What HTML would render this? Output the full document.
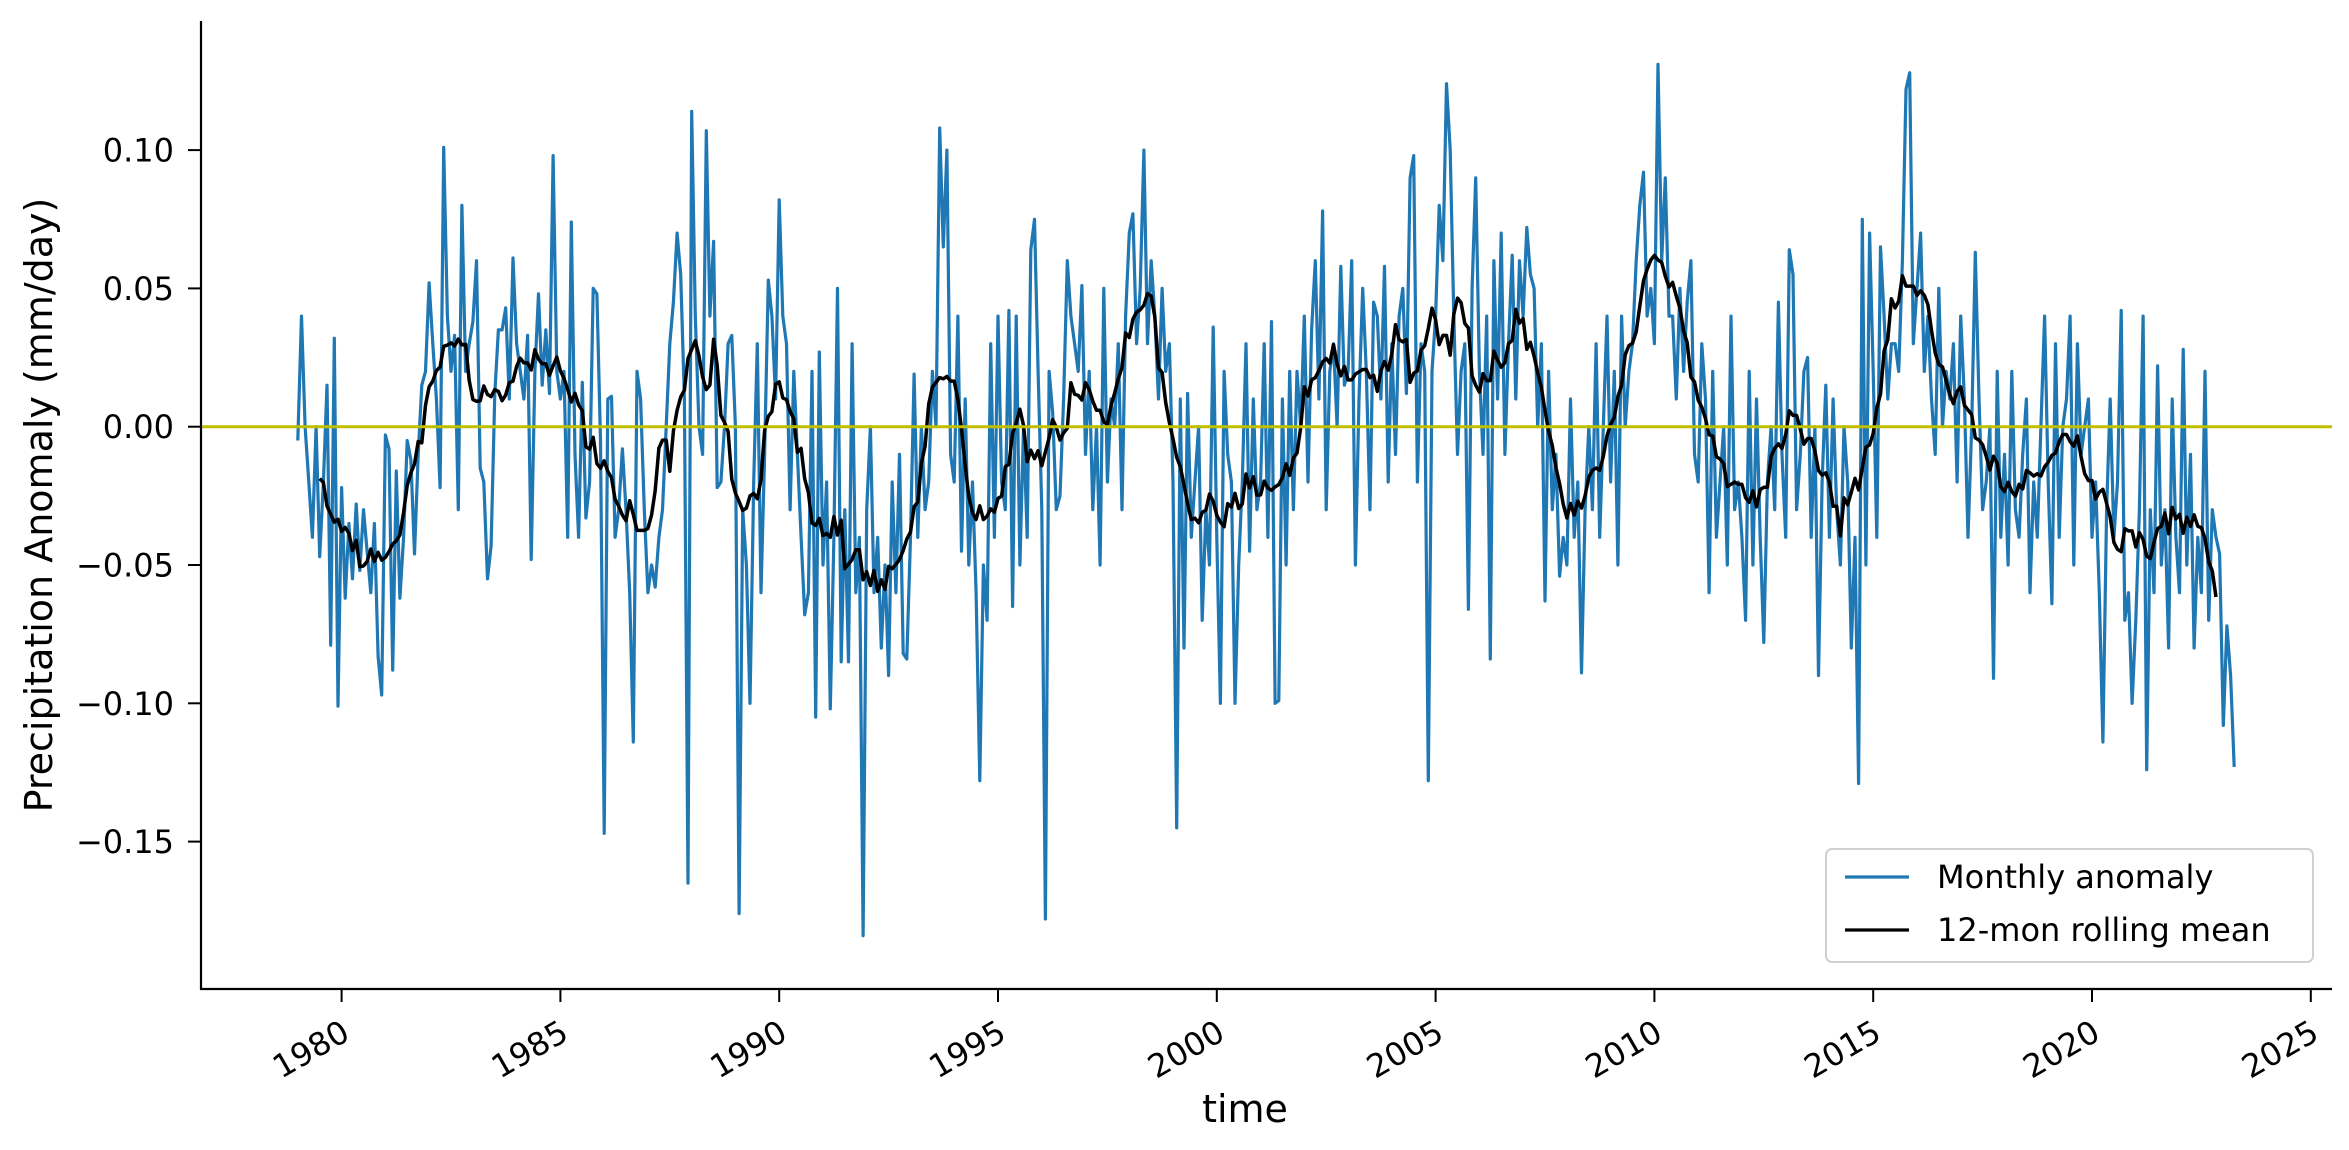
<!DOCTYPE html>
<html><head><meta charset="utf-8"><style>
body{margin:0;background:#fff;}
svg{display:block;font-family:"DejaVu Sans","Liberation Sans",sans-serif;}
</style></head><body>
<svg id="chart" width="2349" height="1150" viewBox="0 0 2349 1150" xmlns="http://www.w3.org/2000/svg">
<g id="plot"></g>
</svg>
<script>
const startYear = 1979;
const monthly = [
-0.005,0.040,0.000,-0.020,-0.040,0.000,-0.047,-0.020,0.015,-0.079,0.032,-0.101,
-0.022,-0.062,-0.035,-0.055,-0.028,-0.052,-0.030,-0.045,-0.060,-0.035,-0.083,-0.097,
-0.003,-0.008,-0.088,-0.016,-0.062,-0.040,-0.005,-0.012,-0.046,-0.010,0.015,0.020,
0.052,0.030,0.010,-0.022,0.101,0.040,0.020,0.033,-0.030,0.080,0.020,0.030,
0.038,0.060,-0.015,-0.020,-0.055,-0.043,0.012,0.035,0.035,0.043,0.010,0.061,
0.030,0.020,0.010,0.033,-0.048,0.020,0.048,0.015,0.035,0.012,0.098,0.020,
0.010,0.020,-0.040,0.074,-0.010,-0.040,0.016,-0.033,-0.020,0.050,0.048,-0.005,
-0.147,0.010,0.011,-0.040,-0.030,-0.008,-0.030,-0.060,-0.114,0.020,0.010,-0.030,
-0.060,-0.050,-0.058,-0.040,-0.030,0.000,0.030,0.045,0.070,0.055,0.010,-0.165,
0.114,0.040,0.000,-0.010,0.107,0.040,0.067,-0.022,-0.020,0.000,0.030,0.033,
0.000,-0.176,-0.030,-0.050,-0.100,-0.020,0.030,-0.060,-0.010,0.053,0.040,0.010,
0.082,0.040,0.030,-0.030,0.020,-0.010,-0.040,-0.068,-0.060,0.020,-0.105,0.027,
-0.050,-0.020,-0.102,-0.040,0.050,-0.085,-0.030,-0.085,0.030,-0.060,-0.040,-0.184,
-0.030,0.000,-0.060,-0.040,-0.080,-0.050,-0.090,-0.020,-0.060,-0.010,-0.082,-0.084,
-0.040,0.019,-0.040,0.000,-0.030,-0.020,0.020,0.000,0.108,0.065,0.100,-0.010,
-0.020,0.040,-0.045,0.010,-0.050,-0.020,-0.060,-0.128,-0.050,-0.070,0.030,-0.040,
0.040,-0.020,-0.030,0.042,-0.065,0.040,-0.050,0.000,-0.040,0.064,0.075,0.020,
-0.030,-0.178,0.020,0.005,-0.030,-0.025,0.010,0.060,0.040,0.030,0.020,0.051,
-0.010,0.020,-0.030,0.000,-0.050,0.050,-0.020,0.010,0.000,0.030,-0.030,0.040,
0.070,0.077,0.030,0.050,0.100,0.030,0.060,0.040,0.010,0.050,0.020,0.030,
-0.020,-0.145,0.010,-0.080,0.012,-0.040,-0.020,0.000,-0.070,-0.030,-0.050,0.036,
-0.040,-0.100,0.020,-0.010,-0.020,-0.100,-0.050,-0.020,0.030,-0.045,0.010,-0.030,
-0.020,0.030,-0.040,0.038,-0.100,-0.099,0.010,-0.050,0.020,-0.030,0.020,0.000,
0.040,-0.020,0.035,0.060,0.010,0.078,-0.030,0.020,0.030,0.000,0.058,0.015,
0.020,0.060,-0.050,0.010,0.050,0.020,-0.030,0.045,0.040,0.010,0.058,-0.020,
0.030,-0.010,0.040,0.050,0.012,0.090,0.098,-0.020,0.030,0.020,-0.128,0.020,
0.040,0.080,0.060,0.124,0.100,0.040,-0.010,0.020,0.030,-0.066,0.050,0.090,
0.020,-0.010,0.040,-0.084,0.060,0.010,0.070,-0.010,0.030,0.062,0.010,0.060,
0.040,0.072,0.055,0.050,0.000,0.030,-0.063,0.020,-0.030,-0.010,-0.054,-0.040,
-0.050,0.010,-0.040,-0.020,-0.089,-0.030,0.000,-0.030,0.030,-0.040,0.000,0.040,
-0.020,0.020,-0.050,0.040,0.000,0.020,0.030,0.060,0.080,0.092,0.040,0.050,
0.030,0.131,0.060,0.090,0.040,0.040,0.010,0.050,0.020,0.045,0.060,-0.010,
-0.020,0.030,0.010,-0.060,0.020,-0.040,-0.020,0.000,-0.050,0.040,-0.030,-0.020,
-0.040,-0.070,0.020,-0.050,0.010,-0.040,-0.078,-0.020,0.000,-0.030,0.045,-0.010,
-0.040,0.064,0.055,-0.030,-0.010,0.020,0.025,-0.040,0.000,-0.090,-0.020,0.015,
-0.040,0.010,-0.030,-0.050,0.000,-0.020,-0.080,-0.040,-0.129,0.075,-0.050,0.070,
0.020,-0.040,0.065,0.040,0.010,0.030,0.030,0.020,0.060,0.122,0.128,0.030,
0.050,0.070,0.020,0.040,0.010,-0.010,0.050,0.000,0.020,0.010,0.030,-0.020,
0.040,0.010,-0.040,0.000,0.063,0.010,-0.030,-0.020,0.000,-0.091,0.020,-0.040,
-0.010,-0.050,0.020,-0.030,-0.040,-0.010,0.010,-0.060,-0.020,-0.040,0.000,0.040,
-0.020,-0.064,0.030,-0.040,0.000,0.010,0.040,-0.050,0.030,-0.010,0.000,0.010,
-0.040,-0.020,-0.060,-0.114,-0.030,0.010,-0.040,-0.020,0.042,-0.070,-0.060,-0.100,
-0.070,-0.030,0.040,-0.124,-0.030,-0.060,0.022,-0.050,-0.030,-0.080,0.010,-0.040,
-0.060,0.028,-0.050,-0.010,-0.080,-0.040,-0.060,0.020,-0.070,-0.030,-0.040,-0.046,
-0.108,-0.072,-0.090,-0.123
];
const yTicks = [0.10, 0.05, 0.00, -0.05, -0.10, -0.15];
const yTickLabels = ["0.10","0.05","0.00","\u22120.05","\u22120.10","\u22120.15"];
const xTicks = [1980,1985,1990,1995,2000,2005,2010,2015,2020,2025];
const legendLabels = ["Monthly anomaly","12-mon rolling mean"];

const NS = "http://www.w3.org/2000/svg";
const X0 = 341.6, PXY = 43.76, Y0 = 426.7, PXV = 2766;
function xScale(yr){ return X0 + (yr - 1980) * PXY; }
function yScale(v){ return Y0 - v * PXV; }
const g = document.getElementById('plot');
function mk(tag, attrs, parent){
  const e = document.createElementNS(NS, tag);
  for (const k in attrs) e.setAttribute(k, attrs[k]);
  (parent || g).appendChild(e); return e;
}

const rolling = [];
for (let i = 0; i < monthly.length; i++) {
  if (i - 6 < 0 || i + 5 >= monthly.length) { rolling.push(null); continue; }
  let s = 0; for (let j = i - 6; j <= i + 5; j++) s += monthly[j];
  rolling.push(s / 12);
}

let d = "";
monthly.forEach((v, i) => { const t = startYear + i / 12; d += (i ? "L" : "M") + xScale(t).toFixed(1) + "," + yScale(v).toFixed(1); });
const ml = mk('path', {d: d, fill: 'none', stroke: '#1f77b4', 'stroke-width': 3.2, 'stroke-linejoin': 'round'});



d = ""; let first = true;
rolling.forEach((v, i) => { if (v === null) return; const t = startYear + i / 12; d += (first ? "M" : "L") + xScale(t).toFixed(1) + "," + yScale(v).toFixed(1); first = false; });
const rl = mk('path', {d: d, fill: 'none', stroke: '#000', 'stroke-width': 3.5, 'stroke-linejoin': 'round'});



const zl = mk('line', {x1: 201, x2: 2332, y1: yScale(0), y2: yScale(0), stroke: '#bfbf00', 'stroke-width': 3});



const ls = mk('line', {x1: 201, x2: 201, y1: 21, y2: 990, stroke: '#000', 'stroke-width': 2.2});


const bs = mk('line', {x1: 200, x2: 2332, y1: 989, y2: 989, stroke: '#000', 'stroke-width': 2.2});



yTicks.forEach((v, i) => {
  const y = yScale(v);
  const t = mk('line', {x1: 188, x2: 201, y1: y, y2: y, stroke: '#000', 'stroke-width': 2});
  
  
  const tx = mk('text', {x: 174, y: y + 11.5, 'text-anchor': 'end', 'font-size': 32, fill: '#000'});
  tx.textContent = yTickLabels[i];
  
  
});

xTicks.forEach(yr => {
  const x = xScale(yr);
  const t = mk('line', {x1: x, x2: x, y1: 989, y2: 1002, stroke: '#000', 'stroke-width': 2});
  
  
  const ax = x + 4, ay = 1040;
  const tx = mk('text', {x: ax, y: ay, 'text-anchor': 'end', 'font-size': 32, fill: '#000', transform: 'rotate(-30 ' + ax + ' ' + (ay - 12) + ')'});
  tx.textContent = String(yr);
  
  
});

const yt = mk('text', {x: 0, y: 0, 'text-anchor': 'middle', 'font-size': 38, fill: '#000', transform: 'translate(52,505) rotate(-90)'});
yt.textContent = 'Precipitation Anomaly (mm/day)';


const xt = mk('text', {x: 1245, y: 1122, 'text-anchor': 'middle', 'font-size': 38, fill: '#000'});
xt.textContent = 'time';



const lg = mk('g', {});


mk('rect', {x: 1826, y: 849, width: 487, height: 113, rx: 6, fill: '#fff', 'fill-opacity': 0.8, stroke: '#d0d0d0', 'stroke-width': 2}, lg);
const colors = ['#1f77b4', '#000'];
legendLabels.forEach((lab, i) => {
  const y = 877 + i * 53;
  const e = mk('g', {}, lg);
  
  
  mk('line', {x1: 1845, x2: 1909, y1: y, y2: y, stroke: colors[i], 'stroke-width': 3.2}, e);
  const t = mk('text', {x: 1937, y: y + 11, 'font-size': 32, fill: '#000'}, e);
  t.textContent = lab;
});
</script>
</body></html>
